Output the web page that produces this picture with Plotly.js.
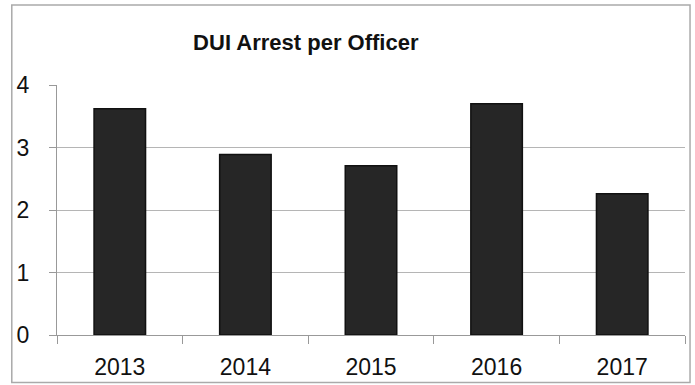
<!DOCTYPE html>
<html>
<head>
<meta charset="utf-8">
<script src="https://cdn.plot.ly/plotly-3.0.1.min.js"></script>
<style>html,body{margin:0;padding:0;background:#fff;}#chart{width:695px;height:385px;}</style>
</head>
<body>
<div id="chart"></div>
<script>
const years = ["2013", "2014", "2015", "2016", "2017"];
const arrestsPerOfficer = [3.62, 2.89, 2.71, 3.70, 2.26];
const yTicks = [0, 1, 2, 3, 4];

const trace = {
  type: "bar",
  x: years,
  y: arrestsPerOfficer,
  marker: {color: "#262626", line: {color: "#111", width: 1.5}},
  hoverinfo: "x+y"
};

const layout = {
  width: 695, height: 385,
  margin: {l: 57, r: 10, t: 85, b: 50},
  paper_bgcolor: "#fff", plot_bgcolor: "#fff",
  bargap: 0.59,
  showlegend: false,
  font: {family: "Liberation Sans, Arial, sans-serif", color: "#111"},
  title: {text: "<b>DUI Arrest per Officer</b>", font: {size: 22, color: "#111"}, x: 0.44, xanchor: "center", y: 0.89, yanchor: "middle"},
  xaxis: {
    type: "category",
    showline: true, linecolor: "#999", linewidth: 1,
    ticks: "outside", tickson: "boundaries", ticklen: 8, tickcolor: "#999",
    tickfont: {size: 23, color: "#111"},
    ticklabelstandoff: 11,
    showgrid: false, zeroline: false
  },
  yaxis: {
    range: [0, 4], tickvals: yTicks, ticktext: yTicks.map(String),
    showline: true, linecolor: "#999", linewidth: 1,
    ticks: "outside", ticklen: 7, tickcolor: "#999",
    gridcolor: "#b5b5b5", gridwidth: 1,
    tickfont: {size: 23, color: "#111"},
    ticklabelstandoff: 15,
    zeroline: false
  },
  shapes: [{type: "rect", xref: "paper", yref: "paper", x0: -0.072, x1: 1.008, y0: -0.19, y1: 1.32, line: {color: "#aaa", width: 1.5}}]
};

Plotly.newPlot("chart", [trace], layout, {staticPlot: true, displayModeBar: false});
</script>
</body>
</html>
